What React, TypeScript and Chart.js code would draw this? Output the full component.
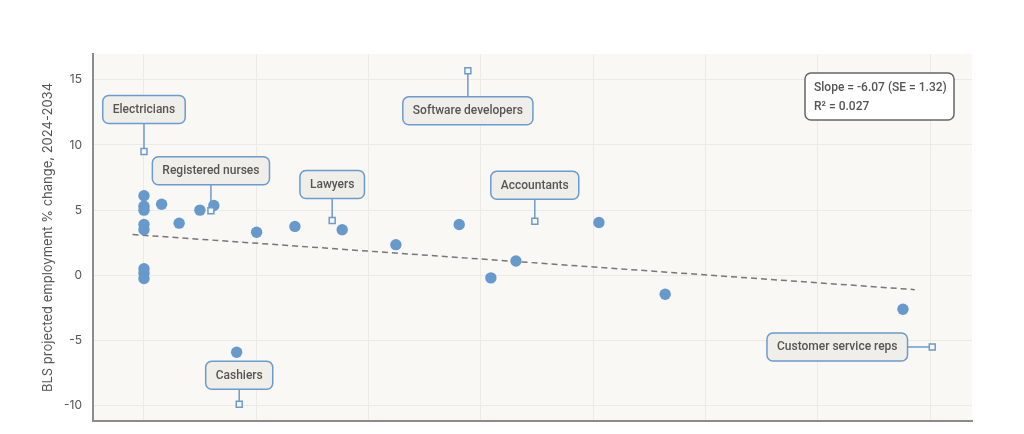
import React, { useEffect, useRef } from "react";
import { Chart, registerables } from "chart.js";

Chart.register(...registerables);

// ---- data ----
const pointX = [0, 0, 0, 0, 0, 0, 0, 0, 0.0157, 0.0313, 0.0498, 0.0622, 0.0825, 0.1003, 0.1344, 0.1765, 0.2243, 0.2807, 0.3089, 0.3312, 0.4051, 0.4641, 0.6758];
const pointY = [6.1, 5.3, 5.0, 3.9, 3.5, 0.5, 0.15, -0.25, 5.45, 4.0, 5.0, 5.35, -5.9, 3.3, 3.75, 3.5, 2.35, 3.9, -0.2, 1.1, 4.05, -1.45, -2.6];

const labelNames = ["Electricians", "Registered nurses", "Lawyers", "Software developers", "Accountants", "Cashiers", "Customer service reps"];
const labelX = [0, 0.0596, 0.1676, 0.2884, 0.348, 0.0848, 0.7019];
const labelY = [9.5, 4.95, 4.2, 15.7, 4.15, -9.9, -5.5];

const trendX = [-0.0102, 0.6863];
const trendY = [3.13, -1.1];

const xTicks = [0, 0.1, 0.2, 0.3, 0.4, 0.5, 0.6, 0.7];
const yTicks = [-10, -5, 0, 5, 10, 15];

const statsLines = ["Slope = -6.07 (SE = 1.32)", "R\u00B2 = 0.027"];
const yTitle = "BLS projected employment % change, 2024-2034";

// ---- layout / style (not data) ----
const labelOffsets = [[0, -42], [0, -40], [0, -36], [0, 40], [0, -36], [0, -29], [-95, 0]];
const FONT_FAMILY = "Inter, 'Noto Sans', sans-serif";
const LABEL_FONT = "500 12px Roboto, 'Noto Sans', sans-serif";
const BLUE = "#6a9bd1";
const DOT = "#6699cc";
const TEXT = "#555555";
const PLOT_BG = "#f9f8f4";
const GRID = "#ecebe3";

const annotationPlugin = {
  id: "annotations",
  beforeDraw(chart: any) {
    const { ctx, chartArea } = chart;
    ctx.save();
    ctx.fillStyle = PLOT_BG;
    ctx.fillRect(chartArea.left, chartArea.top, chartArea.right - chartArea.left, chartArea.bottom - chartArea.top);
    ctx.restore();
  },
  afterDatasetsDraw(chart: any) {
    const { ctx, chartArea } = chart;
    const xs = chart.scales.x;
    const ys = chart.scales.y;
    ctx.save();
    ctx.font = LABEL_FONT;
    const h = 28;
    const padX = 10;
    labelNames.forEach((name, i) => {
      const px = xs.getPixelForValue(labelX[i]);
      const py = ys.getPixelForValue(labelY[i]);
      const [dx, dy] = labelOffsets[i];
      const cx = px + dx;
      const cy = py + dy;
      const w = ctx.measureText(name).width + 2 * padX;
      ctx.strokeStyle = BLUE;
      ctx.lineWidth = 1.5;
      ctx.beginPath();
      if (dx === 0) {
        const edgeY = dy < 0 ? cy + h / 2 : cy - h / 2;
        ctx.moveTo(px, edgeY);
        ctx.lineTo(px, py + (dy < 0 ? -3 : 3));
      } else {
        const edgeX = dx < 0 ? cx + w / 2 : cx - w / 2;
        ctx.moveTo(edgeX, py);
        ctx.lineTo(px + (dx < 0 ? -3 : 3), py);
      }
      ctx.stroke();
      ctx.beginPath();
      ctx.roundRect(cx - w / 2, cy - h / 2, w, h, 6);
      ctx.fillStyle = "#efeee8";
      ctx.fill();
      ctx.stroke();
      ctx.fillStyle = TEXT;
      ctx.textAlign = "center";
      ctx.textBaseline = "middle";
      ctx.fillText(name, cx, cy + 0.5);
    });
    // stats box
    const bw = 149;
    const bh = 47;
    const bx = chartArea.right - 18 - bw;
    const by = chartArea.top + 19;
    ctx.beginPath();
    ctx.roundRect(bx, by, bw, bh, 6);
    ctx.fillStyle = "#ffffff";
    ctx.fill();
    ctx.strokeStyle = "#666666";
    ctx.lineWidth = 1.5;
    ctx.stroke();
    ctx.fillStyle = TEXT;
    ctx.textAlign = "left";
    ctx.textBaseline = "middle";
    ctx.fillText(statsLines[0], bx + 9, by + 15);
    ctx.fillText(statsLines[1], bx + 9, by + 33.5);
    ctx.restore();
  },
};

export default function App() {
  const ref = useRef<HTMLCanvasElement | null>(null);
  useEffect(() => {
    if (!ref.current) return;
    const chart = new Chart(ref.current, {
      type: "scatter",
      data: {
        datasets: [
          {
            label: "Highlighted",
            data: labelX.map((x, i) => ({ x, y: labelY[i] })),
            pointStyle: "rect",
            pointRadius: 4.2,
            pointBackgroundColor: PLOT_BG,
            pointBorderColor: BLUE,
            pointBorderWidth: 1.5,
          } as any,
          {
            label: "Occupations",
            data: pointX.map((x, i) => ({ x, y: pointY[i] })),
            pointRadius: 5.7,
            pointBackgroundColor: DOT,
            pointBorderColor: DOT,
            pointBorderWidth: 0,
          } as any,
          {
            label: "Trend",
            type: "line",
            data: trendX.map((x, i) => ({ x, y: trendY[i] })),
            borderColor: "#777777",
            borderWidth: 1.5,
            borderDash: [6, 4],
            pointRadius: 0,
            fill: false,
          } as any,
        ],
      },
      options: {
        animation: false,
        responsive: false,
        maintainAspectRatio: false,
        layout: { padding: { top: 46, right: 44, left: 0, bottom: 0 } },
        plugins: { legend: { display: false }, tooltip: { enabled: false } },
        scales: {
          x: {
            type: "linear",
            min: -0.0454,
            max: 0.7373,
            afterBuildTicks: (s: any) => {
              s.ticks = xTicks.map((v) => ({ value: v }));
            },
            afterFit: (s: any) => {
              s.height = 67;
            },
            ticks: {
              padding: 6,
              color: TEXT,
              font: { family: FONT_FAMILY, size: 12 },
              callback: (v: any) => Number(v).toFixed(1),
            },
            grid: { color: GRID, lineWidth: 1, drawTicks: false },
            border: { color: "#8c8c8c", width: 2 },
          },
          y: {
            type: "linear",
            min: -11.18,
            max: 16.98,
            afterBuildTicks: (s: any) => {
              s.ticks = yTicks.map((v) => ({ value: v }));
            },
            afterFit: (s: any) => {
              s.width = 85;
            },
            ticks: {
              padding: 11,
              color: TEXT,
              font: { family: FONT_FAMILY, size: 12 },
            },
            grid: { color: GRID, lineWidth: 1, drawTicks: false },
            border: { color: "#8c8c8c", width: 2 },
            title: {
              display: true,
              text: yTitle,
              color: TEXT,
              font: { family: FONT_FAMILY, size: 13 },
              padding: { top: 32, bottom: 0 },
            },
          },
        },
      },
      plugins: [annotationPlugin],
    } as any);
    return () => chart.destroy();
  }, []);
  return (
    <div style={{ height: 426, marginBottom: -8, overflow: "hidden" }}>
      <canvas ref={ref} width={1008} height={480} style={{ display: "block" }} />
    </div>
  );
}
